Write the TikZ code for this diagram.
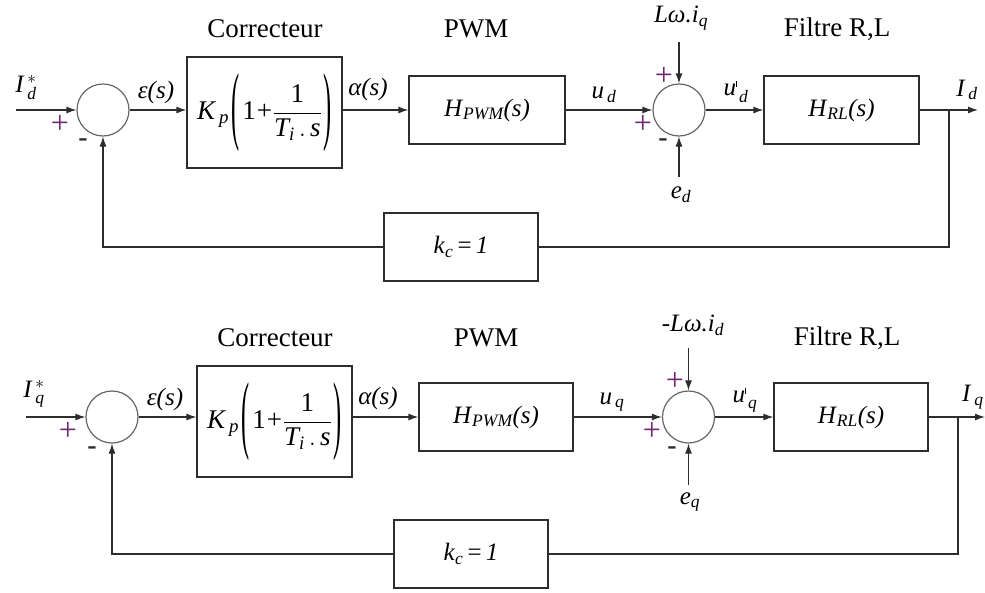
\documentclass[tikz,border=0pt]{standalone}
\usepackage{amsmath}
\usepackage{graphicx}
\usepackage{fontspec}
\setmainfont{Liberation Serif}
\usetikzlibrary{arrows.meta}
\newcommand\vi[1]{\textit{#1}}
\newcommand\tick{\rule{0.9pt}{6pt}}
\newcommand\bigpar[1]{\raisebox{-14pt}{\scalebox{0.9}[3.2]{#1}}}
\newcommand\corrtf{\vi{K}$_{\,\vi{p}}$\hspace{2pt}\bigpar{(}\hspace{3pt}1\hspace{1pt}+\hspace{1pt}$\dfrac{\text{1}}{\vi{T}_{\vi{i}}\,.\,\vi{s}}$\hspace{2pt}\bigpar{)}}
\definecolor{sgn}{RGB}{110,40,110}
\definecolor{ln}{RGB}{45,45,45}
\begin{document}
\begin{tikzpicture}[x=1pt,y=-1pt,
  wire/.style={draw=ln, line width=1.2pt},
  arr/.style={wire, -{Latex[length=10pt,width=7pt]}},
  blk/.style={draw=ln, line width=1.2pt, inner sep=0pt},
  sumc/.style={circle, draw=gray!80!black, line width=1.2pt, minimum size=52pt, inner sep=0pt},
  ttl/.style={font=\fontsize{27}{30}\selectfont, inner sep=0pt},
  lbl/.style={font=\fontsize{25}{28}\selectfont, inner sep=0pt},
  eqn/.style={font=\fontsize{27}{30}\selectfont},
  sg/.style={font=\fontsize{32}{32}\selectfont, text=sgn, inner sep=0pt},
  mn/.style={font=\fontsize{28}{28}\selectfont\bfseries, text=ln, inner sep=0pt},
]
\useasboundingbox (0,0) rectangle (985,592);
\fill[white] (0,0) rectangle (985,592);

% ===================== top loop (d axis) =====================
\node[sumc] (s1) at (103,110) {};
\node[blk, minimum width=155pt, minimum height=111pt, eqn] (c1) at (264.5,112.5) {\corrtf};
\node[blk, minimum width=156pt, minimum height=68pt, lbl] (p1) at (487,110)
  {\vi{H}$_{\vi{PWM}}$\vi{(s)}};
\node[sumc] (s2) at (679,110) {};
\node[blk, minimum width=155pt, minimum height=68pt, lbl] (h1) at (841.5,110)
  {\vi{H}$_{\vi{RL}}$\vi{(s)}};
\node[blk, minimum width=154pt, minimum height=68pt, lbl] (k1) at (461,247)
  {\vi{k}$_{\vi{c}}$\,=\,\vi{1}};
\coordinate (in1) at (16,110);
\coordinate (b1) at (949,110);
\coordinate (o1) at (978,110);
\coordinate (t1) at (679,42);
\coordinate (e1) at (679,177);

\draw[arr] (in1) -- (s1.west);
\draw[arr] (s1.east) -- (s1.east -| c1.west);
\draw[arr] (c1.east |- p1.west) -- (p1.west);
\draw[arr] (p1.east) -- (s2.west);
\draw[arr] (s2.east) -- (h1.west);
\draw[wire] (h1.east) -- (b1);
\draw[arr] (b1) -- (o1);
\draw[wire] (b1) |- (k1.east);
\draw[arr] (k1.west) -| (s1.south);
\draw[arr] (t1) -- (s2.north);
\draw[arr] (e1) -- (s2.south);

\node[ttl] (tc1) at (265,29) {Correcteur};
\node[ttl] (tp1) at (476,29) {PWM};
\node[ttl] (tf1) at (837,29) {Filtre R,L};
\node[lbl] (li1) at (26,88) {\vi{I}$^{\,*}_{\,\vi{d}}$};
\node[lbl] (le1) at (156,92) {\vi{ε(s)}};
\node[lbl] (la1) at (368,89) {\vi{α(s)}};
\node[lbl] (lu1) at (604,95) {\vi{u}$_{\,\vi{d}}$};
\node[lbl] (lw1) at (681,18) {\vi{Lω.i}$_{\vi{q}}$};
\node[lbl] (led1) at (681,195) {\vi{e}$_{\vi{d}}$};
\node[lbl] (lv1) at (736,92) {\vi{u}$^{\tick}_{\,\vi{d}}$};
\node[lbl] (lo1) at (967,90) {\vi{I}$_{\,\vi{d}}$};
\node[sg] (pa1) at (60,124) {+};
\node[mn] (ma1) at (83,143) {-};
\node[sg] (pb1) at (664,76) {+};
\node[sg] (pc1) at (643,124) {+};
\node[mn] (mb1) at (663,143) {-};

% ===================== bottom loop (q axis) =====================
\node[sumc] (s3) at (112,417) {};
\node[blk, minimum width=155pt, minimum height=111pt, eqn] (c2) at (274.5,421.5) {\corrtf};
\node[blk, minimum width=154pt, minimum height=68pt, lbl] (p2) at (496,417)
  {\vi{H}$_{\vi{PWM}}$\vi{(s)}};
\node[sumc] (s4) at (688.5,417) {};
\node[blk, minimum width=154pt, minimum height=68pt, lbl] (h2) at (851,417)
  {\vi{H}$_{\vi{RL}}$\vi{(s)}};
\node[blk, minimum width=154pt, minimum height=68pt, lbl] (k2) at (471,554)
  {\vi{k}$_{\vi{c}}$\,=\,\vi{1}};
\coordinate (in2) at (26,417);
\coordinate (b2) at (958,417);
\coordinate (o2) at (985,417);
\coordinate (t2) at (688.5,348);
\coordinate (e2) at (688.5,485);

\draw[arr] (in2) -- (s3.west);
\draw[arr] (s3.east) -- (s3.east -| c2.west);
\draw[arr] (c2.east |- p2.west) -- (p2.west);
\draw[arr] (p2.east) -- (s4.west);
\draw[arr] (s4.east) -- (h2.west);
\draw[wire] (h2.east) -- (b2);
\draw[arr] (b2) -- (o2);
\draw[wire] (b2) |- (k2.east);
\draw[arr] (k2.west) -| (s3.south);
\draw[arr] (t2) -- (s4.north);
\draw[arr] (e2) -- (s4.south);

\node[ttl] (tc2) at (275,338) {Correcteur};
\node[ttl] (tp2) at (486,338) {PWM};
\node[ttl] (tf2) at (847,338) {Filtre R,L};
\node[lbl] (li2) at (34,394) {\vi{I}$^{\,*}_{\,\vi{q}}$};
\node[lbl] (le2) at (165,399) {\vi{ε(s)}};
\node[lbl] (la2) at (378,398) {\vi{α(s)}};
\node[lbl] (lu2) at (612,402) {\vi{u}$_{\,\vi{q}}$};
\node[lbl] (lw2) at (693,325) {-\vi{Lω.i}$_{\vi{d}}$};
\node[lbl] (led2) at (690,502) {\vi{e}$_{\vi{q}}$};
\node[lbl] (lv2) at (745,400) {\vi{u}$^{\tick}_{\,\vi{q}}$};
\node[lbl, anchor=west] (lo2) at (962,397) {\vi{I}$_{\,\vi{q}}$};
\node[sg] (pa2) at (68,431) {+};
\node[mn] (ma2) at (92,451) {-};
\node[sg] (pb2) at (675,381) {+};
\node[sg] (pc2) at (652,431) {+};
\node[mn] (mb2) at (672,451) {-};
\end{tikzpicture}
\end{document}
